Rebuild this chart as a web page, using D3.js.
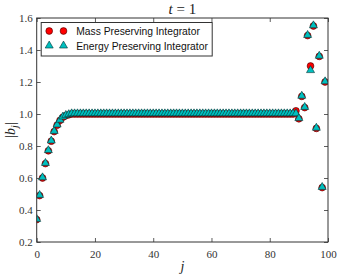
<!DOCTYPE html>
<html>
<head>
<meta charset="utf-8">
<script src="https://cdn.jsdelivr.net/npm/d3@7"></script>
<style>
  body { margin: 0; background: #fff; }
  svg { display: block; }
  .tick text { font-family: "Liberation Serif", "DejaVu Serif", serif; font-size: 11px; fill: #333; }
</style>
</head>
<body>
<div id="chart"></div>
<script>
// index j = 0..99
const jValues = [
  0, 1, 2, 3, 4, 5, 6, 7, 8, 9,
  10, 11, 12, 13, 14, 15, 16, 17, 18, 19,
  20, 21, 22, 23, 24, 25, 26, 27, 28, 29,
  30, 31, 32, 33, 34, 35, 36, 37, 38, 39,
  40, 41, 42, 43, 44, 45, 46, 47, 48, 49,
  50, 51, 52, 53, 54, 55, 56, 57, 58, 59,
  60, 61, 62, 63, 64, 65, 66, 67, 68, 69,
  70, 71, 72, 73, 74, 75, 76, 77, 78, 79,
  80, 81, 82, 83, 84, 85, 86, 87, 88, 89,
  90, 91, 92, 93, 94, 95, 96, 97, 98, 99
];

const massValues = [
  0.34, 0.49, 0.60, 0.69, 0.77, 0.83, 0.89, 0.93, 0.96, 0.98,
  0.99, 0.995, 1.0, 1.0, 1.0, 1.0, 1.0, 1.0, 1.0, 1.0,
  1.0, 1.0, 1.0, 1.0, 1.0, 1.0, 1.0, 1.0, 1.0, 1.0,
  1.0, 1.0, 1.0, 1.0, 1.0, 1.0, 1.0, 1.0, 1.0, 1.0,
  1.0, 1.0, 1.0, 1.0, 1.0, 1.0, 1.0, 1.0, 1.0, 1.0,
  1.0, 1.0, 1.0, 1.0, 1.0, 1.0, 1.0, 1.0, 1.0, 1.0,
  1.0, 1.0, 1.0, 1.0, 1.0, 1.0, 1.0, 1.0, 1.0, 1.0,
  1.0, 1.0, 1.0, 1.0, 1.0, 1.0, 1.0, 1.0, 1.0, 1.0,
  1.0, 1.0, 1.0, 1.0, 1.0, 1.0, 1.0, 1.0, 1.0, 1.02,
  0.97, 1.11, 1.04, 1.49, 1.30, 1.55, 0.91, 1.36, 0.54, 1.20
];

const energyValues = [
  0.34, 0.49, 0.60, 0.69, 0.77, 0.83, 0.89, 0.93, 0.96, 0.98,
  0.99, 0.995, 1.0, 1.0, 1.0, 1.0, 1.0, 1.0, 1.0, 1.0,
  1.0, 1.0, 1.0, 1.0, 1.0, 1.0, 1.0, 1.0, 1.0, 1.0,
  1.0, 1.0, 1.0, 1.0, 1.0, 1.0, 1.0, 1.0, 1.0, 1.0,
  1.0, 1.0, 1.0, 1.0, 1.0, 1.0, 1.0, 1.0, 1.0, 1.0,
  1.0, 1.0, 1.0, 1.0, 1.0, 1.0, 1.0, 1.0, 1.0, 1.0,
  1.0, 1.0, 1.0, 1.0, 1.0, 1.0, 1.0, 1.0, 1.0, 1.0,
  1.0, 1.0, 1.0, 1.0, 1.0, 1.0, 1.0, 1.0, 1.0, 1.0,
  1.0, 1.0, 1.0, 1.0, 1.0, 1.0, 1.0, 1.0, 1.0, 1.0,
  0.97, 1.11, 1.04, 1.49, 1.27, 1.55, 0.91, 1.36, 0.54, 1.20
];

const xTicks = [0, 20, 40, 60, 80, 100];
const yTicks = [0.2, 0.4, 0.6, 0.8, 1.0, 1.2, 1.4, 1.6];
const seriesNames = ['Mass Preserving Integrator', 'Energy Preserving Integrator'];

const totalWidth = 341, totalHeight = 276;
const margin = { top: 18, right: 13, bottom: 34, left: 36.7 };
const width = totalWidth - margin.left - margin.right;
const height = totalHeight - margin.top - margin.bottom;

const svgRoot = d3.select('#chart').append('svg')
  .attr('width', totalWidth)
  .attr('height', totalHeight);

const svg = svgRoot.append('g')
  .attr('transform', `translate(${margin.left},${margin.top})`);

const x = d3.scaleLinear().domain([0, 100]).range([0, width]);
const y = d3.scaleLinear().domain([0.2, 1.6]).range([height, 0]);

const fmt = d3.format('.1f');
const tickLen = 4;

// axes with inward ticks on all four sides
function styleAxis(g) {
  g.select('.domain').remove();
  g.selectAll('.tick line').attr('stroke', '#333').attr('stroke-width', 0.8);
}

svg.append('g')
  .attr('transform', `translate(0,${height})`)
  .call(d3.axisBottom(x).tickValues(xTicks).tickSize(-tickLen).tickPadding(8).tickFormat(d3.format('d')))
  .call(styleAxis);

svg.append('g')
  .call(d3.axisTop(x).tickValues(xTicks).tickSize(-tickLen).tickFormat(''))
  .call(styleAxis);

svg.append('g')
  .call(d3.axisLeft(y).tickValues(yTicks).tickSize(-tickLen).tickPadding(4).tickFormat(fmt))
  .call(styleAxis);

svg.append('g')
  .attr('transform', `translate(${width},0)`)
  .call(d3.axisRight(y).tickValues(yTicks).tickSize(-tickLen).tickFormat(''))
  .call(styleAxis);

svg.append('defs').append('clipPath').attr('id', 'plot-clip')
  .append('rect').attr('width', width).attr('height', height);

const plot = svg.append('g').attr('clip-path', 'url(#plot-clip)');

const circle = d3.symbol().type(d3.symbolCircle).size(36);
const triangle = d3.symbol().type(d3.symbolTriangle).size(28);

plot.selectAll('.mass')
  .data(jValues)
  .join('path')
  .attr('class', 'mass')
  .attr('d', circle)
  .attr('transform', (d, i) => `translate(${x(d)},${y(massValues[i])})`)
  .attr('fill', '#ff0000')
  .attr('stroke', '#400')
  .attr('stroke-width', 0.6);

plot.selectAll('.energy')
  .data(jValues)
  .join('path')
  .attr('class', 'energy')
  .attr('d', triangle)
  .attr('transform', (d, i) => `translate(${x(d)},${y(energyValues[i]) - 0.5})`)
  .attr('fill', '#00bfbf')
  .attr('stroke', '#033')
  .attr('stroke-width', 0.6);

// frame
svg.append('rect')
  .attr('width', width)
  .attr('height', height)
  .attr('fill', 'none')
  .attr('stroke', '#333')
  .attr('stroke-width', 1);

// legend
const legend = svg.append('g').attr('transform', 'translate(4.5,4.5)');
legend.append('rect')
  .attr('width', 171)
  .attr('height', 33.5)
  .attr('fill', '#fff')
  .attr('stroke', '#333')
  .attr('stroke-width', 1);

seriesNames.forEach((name, i) => {
  const row = legend.append('g').attr('transform', `translate(0,${8.5 + i * 14.7})`);
  [8, 22.3].forEach(px => {
    row.append('path')
      .attr('d', i === 0 ? circle : triangle)
      .attr('transform', `translate(${px},0)`)
      .attr('fill', i === 0 ? '#ff0000' : '#00bfbf')
      .attr('stroke', i === 0 ? '#400' : '#033')
      .attr('stroke-width', 0.6);
  });
  row.append('text')
    .attr('x', 35)
    .attr('y', 3.8)
    .attr('font-family', '"Liberation Sans", Arial, sans-serif')
    .attr('font-size', 10.3)
    .attr('fill', '#111')
    .text(name);
});

// title
const title = svgRoot.append('text')
  .attr('x', margin.left + width / 2)
  .attr('y', 14)
  .attr('text-anchor', 'middle')
  .attr('font-family', '"Liberation Serif", serif')
  .attr('font-size', 15)
  .attr('fill', '#222');
title.append('tspan').attr('font-style', 'italic').text('t');
title.append('tspan').text(' = 1');

// x label
svgRoot.append('text')
  .attr('x', margin.left + width / 2)
  .attr('y', 271)
  .attr('text-anchor', 'middle')
  .attr('font-family', '"Liberation Serif", serif')
  .attr('font-style', 'italic')
  .attr('font-size', 14)
  .attr('fill', '#222')
  .text('j');

// y label
const ylab = svgRoot.append('text')
  .attr('transform', `translate(15,${margin.top + height / 2}) rotate(-90)`)
  .attr('text-anchor', 'middle')
  .attr('font-family', '"Liberation Serif", serif')
  .attr('font-size', 14)
  .attr('fill', '#222');
ylab.append('tspan').text('|');
ylab.append('tspan').attr('font-style', 'italic').text('b');
ylab.append('tspan').attr('font-style', 'italic').attr('font-size', 10).attr('dy', 3).text('j');
ylab.append('tspan').attr('dy', -3).text('|');
</script>
</body>
</html>
